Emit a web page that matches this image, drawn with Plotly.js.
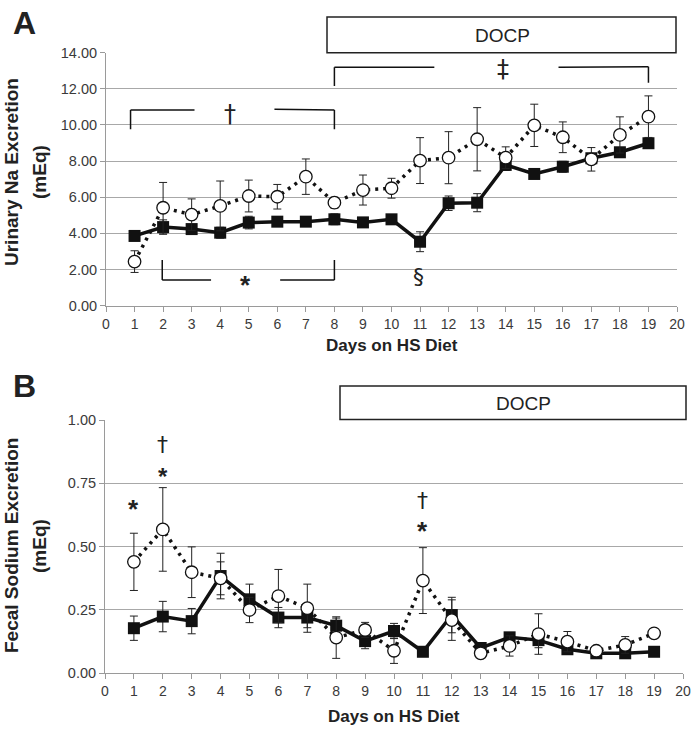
<!DOCTYPE html>
<html>
<head>
<meta charset="utf-8">
<script src="https://cdn.plot.ly/plotly-3.0.1.min.js"></script>
<style>html,body{margin:0;padding:0;background:#fff;}#chart{width:692px;height:732px;}</style>
</head>
<body>
<div id="chart"></div>
<script>
// ---- Data ----
const days = [1, 2, 3, 4, 5, 6, 7, 8, 9, 10, 11, 12, 13, 14, 15, 16, 17, 18, 19];

// Panel A: urinary Na excretion (mEq)
const urineFilled    = [3.86, 4.35, 4.24, 4.04, 4.60, 4.65, 4.65, 4.78, 4.61, 4.78, 3.54, 5.67, 5.70, 7.79, 7.29, 7.69, 8.16, 8.49, 8.99];
const urineFilledErr = [0.15, 0.40, 0.20, 0.30, 0.35, 0.15, 0.15, 0.30, 0.15, 0.15, 0.55, 0.40, 0.50, 0.30, 0.20, 0.30, 0.20, 0.20, 0.25];
const urineOpen      = [2.44, 5.42, 5.04, 5.52, 6.07, 6.03, 7.14, 5.70, 6.40, 6.50, 8.03, 8.19, 9.21, 8.19, 9.98, 9.32, 8.10, 9.45, 10.46];
const urineOpenErr   = [0.60, 1.40, 0.87, 1.38, 0.88, 0.68, 0.98, 0.30, 0.83, 0.55, 1.27, 1.44, 1.75, 0.60, 1.17, 0.85, 0.65, 1.00, 1.15];

// Panel B: fecal sodium excretion (mEq)
const fecalFilled    = [0.178, 0.224, 0.206, 0.384, 0.292, 0.220, 0.220, 0.188, 0.127, 0.167, 0.085, 0.230, 0.100, 0.142, 0.131, 0.095, 0.079, 0.079, 0.085];
const fecalFilledErr = [0.048, 0.060, 0.050, 0.090, 0.060, 0.040, 0.040, 0.030, 0.030, 0.030, 0.010, 0.070, 0.010, 0.015, 0.030, 0.020, 0.015, 0.015, 0.005];
const fecalOpen      = [0.440, 0.568, 0.399, 0.375, 0.250, 0.305, 0.257, 0.141, 0.171, 0.089, 0.366, 0.210, 0.079, 0.108, 0.155, 0.125, 0.089, 0.112, 0.158];
const fecalOpenErr   = [0.113, 0.165, 0.100, 0.065, 0.050, 0.105, 0.095, 0.082, 0.030, 0.050, 0.130, 0.080, 0.010, 0.040, 0.080, 0.040, 0.015, 0.033, 0.005];

const xTickVals = [0,1,2,3,4,5,6,7,8,9,10,11,12,13,14,15,16,17,18,19,20];
const urineTicks = [0, 2, 4, 6, 8, 10, 12, 14];
const fecalTicks = [0, 0.25, 0.5, 0.75, 1];

// ---- Styles ----
const FONT = 'Liberation Sans, Arial, sans-serif';
const AXC = '#9a9a9a';
const GRID = '#a8a8a8';
const XTICKF = {family: FONT, size: 14, color: '#3a3a3a'};
const YTICKF = {family: FONT, size: 14.5, color: '#3a3a3a'};

function filledTrace(y, e, xa, ya) {
  return {
    x: days, y: y, xaxis: xa, yaxis: ya, type: 'scatter', mode: 'lines+markers',
    line: {color: '#111', width: 3.5},
    marker: {symbol: 'square', size: 12, color: '#111', line: {width: 0}},
    error_y: {type: 'data', array: e, visible: true, color: '#222', thickness: 1, width: 4},
    hoverinfo: 'skip', cliponaxis: false
  };
}
function openTrace(y, e, xa, ya) {
  return {
    x: days, y: y, xaxis: xa, yaxis: ya, type: 'scatter', mode: 'lines+markers',
    line: {color: '#111', width: 3.5, dash: '3px,5px'},
    marker: {symbol: 'circle', size: 12.5, color: '#fff', line: {color: '#111', width: 1.3}},
    error_y: {type: 'data', array: e, visible: true, color: '#222', thickness: 1, width: 4},
    hoverinfo: 'skip', cliponaxis: false
  };
}

const data = [
  filledTrace(urineFilled, urineFilledErr, 'x', 'y'),
  openTrace(urineOpen, urineOpenErr, 'x', 'y'),
  filledTrace(fecalFilled, fecalFilledErr, 'x2', 'y2'),
  openTrace(fecalOpen, fecalOpenErr, 'x2', 'y2')
];

function xAxis(domain, anchor) {
  return {
    domain: domain, anchor: anchor, range: [0, 20], tickvals: xTickVals,
    ticks: 'outside', ticklen: 5, tickcolor: AXC, tickwidth: 1,
    showline: true, linecolor: AXC, linewidth: 1, showgrid: false, zeroline: false,
    tickfont: XTICKF, fixedrange: true
  };
}
function yAxis(domain, anchor, range, vals) {
  return {
    domain: domain, anchor: anchor, range: range, tickvals: vals, tickformat: '.2f',
    ticks: 'outside', ticklen: 5, tickcolor: AXC, tickwidth: 1,
    showline: true, linecolor: AXC, linewidth: 1, showgrid: true, gridcolor: GRID, gridwidth: 1,
    zeroline: false, tickfont: YTICKF, fixedrange: true
  };
}

const W = 692, H = 732;
const px = v => v / W;
const py = v => 1 - v / H;

const L = {color: '#111', width: 1.5};
function seg(xa, ya, x0, y0, x1, y1) {
  return {type: 'line', xref: xa, yref: ya, x0: x0, y0: y0, x1: x1, y1: y1, line: L};
}

const shapes = [
  // Panel A brackets
  seg('x','y', 0.86, 9.76, 0.86, 10.83), seg('x','y', 0.86, 10.83, 3.1, 10.83),
  seg('x','y', 5.9, 10.87, 8, 10.83), seg('x','y', 8, 10.83, 8, 9.76),
  seg('x','y', 8, 12.16, 8, 13.2), seg('x','y', 8, 13.2, 11.5, 13.2),
  seg('x','y', 15.85, 13.2, 19, 13.22), seg('x','y', 19, 13.22, 19, 12.34),
  seg('x','y', 1.97, 2.53, 1.97, 1.42), seg('x','y', 1.97, 1.42, 3.68, 1.42),
  seg('x','y', 6.1, 1.42, 8, 1.42), seg('x','y', 8, 1.42, 8, 2.53),
  // DOCP boxes
  {type: 'rect', xref: 'paper', yref: 'paper', x0: px(327), x1: px(676), y0: py(52.7), y1: py(17),
   line: {color: '#222', width: 1.5}, fillcolor: 'rgba(0,0,0,0)'},
  {type: 'rect', xref: 'paper', yref: 'paper', x0: px(340), x1: px(686), y0: py(419.5), y1: py(386),
   line: {color: '#222', width: 1.5}, fillcolor: 'rgba(0,0,0,0)'}
];

function txt(x, y, t, size, xr, yr, extra, fam) {
  return Object.assign({x: x, y: y, xref: xr, yref: yr, text: t, showarrow: false,
    font: {family: fam || FONT, size: size, color: '#222'}, xanchor: 'center', yanchor: 'middle'}, extra || {});
}
const SYM = 'DejaVu Sans, Liberation Sans, sans-serif';
const STAR = '<b>*</b>';

const annotations = [
  txt(px(11), py(3), '<b>A</b>', 32, 'paper', 'paper', {xanchor: 'left', yanchor: 'top'}),
  txt(px(11), py(366), '<b>B</b>', 32, 'paper', 'paper', {xanchor: 'left', yanchor: 'top'}),
  txt(px(502), py(35), 'DOCP', 19, 'paper', 'paper'),
  txt(px(523), py(403), 'DOCP', 19, 'paper', 'paper'),
  txt(px(11), py(172), '<b>Urinary Na Excretion</b>', 19, 'paper', 'paper', {textangle: -90}),
  txt(px(39), py(172), '<b>(mEq)</b>', 19, 'paper', 'paper', {textangle: -90}),
  txt(px(11), py(546), '<b>Fecal Sodium Excretion</b>', 19, 'paper', 'paper', {textangle: -90}),
  txt(px(39), py(546), '<b>(mEq)</b>', 19, 'paper', 'paper', {textangle: -90}),
  txt(px(392), py(345), '<b>Days on HS Diet</b>', 17, 'paper', 'paper'),
  txt(px(394), py(716), '<b>Days on HS Diet</b>', 17, 'paper', 'paper'),
  // Panel A symbols
  txt(4.33, 10.62, '†', 24, 'x', 'y', null, SYM),
  txt(13.9, 13.12, '‡', 24, 'x', 'y', null, SYM),
  txt(4.9, 1.15, STAR, 26, 'x', 'y'),
  txt(10.95, 1.6, '§', 22, 'x', 'y', null, SYM),
  // Panel B symbols
  txt(1, 0.650, STAR, 26, 'x2', 'y2'),
  txt(2, 0.902, '†', 22, 'x2', 'y2', null, SYM),
  txt(2, 0.778, STAR, 24, 'x2', 'y2'),
  txt(11, 0.682, '†', 22, 'x2', 'y2', null, SYM),
  txt(11, 0.562, STAR, 26, 'x2', 'y2')
];

const layout = {
  width: W, height: H, margin: {l: 0, r: 0, t: 0, b: 0},
  paper_bgcolor: '#fff', plot_bgcolor: '#fff', showlegend: false,
  font: {family: FONT},
  xaxis: xAxis([px(106), px(677)], 'y'),
  yaxis: yAxis([py(305.7), py(52.7)], 'x', [0, 14], urineTicks),
  xaxis2: xAxis([px(105), px(683)], 'y2'),
  yaxis2: yAxis([py(673.3), py(420)], 'x2', [0, 1], fecalTicks),
  shapes: shapes, annotations: annotations
};

Plotly.newPlot('chart', data, layout, {displayModeBar: false, staticPlot: true});
</script>
</body>
</html>
